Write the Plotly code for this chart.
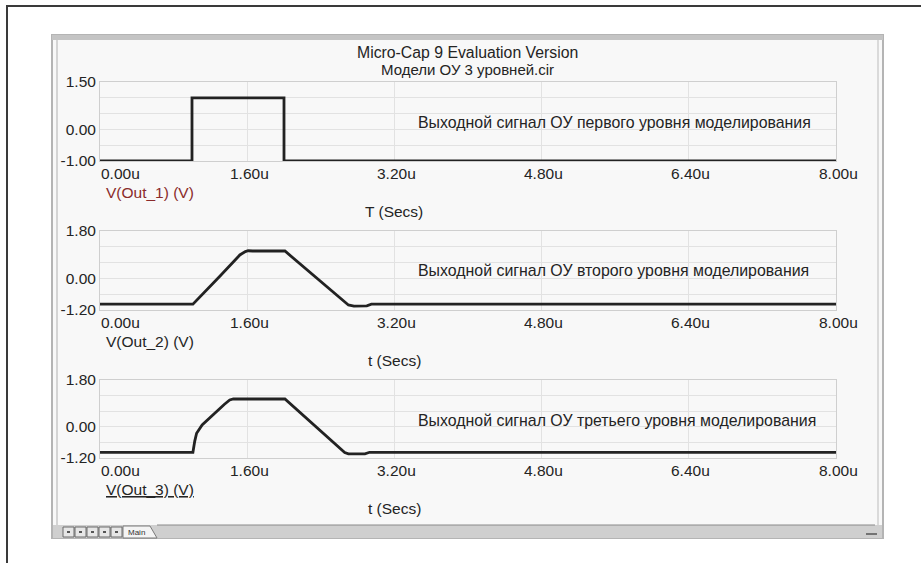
import plotly.graph_objects as go

W, H = 921, 563

# ---------------- data ----------------
title_lines = ["Micro-Cap 9 Evaluation Version", "Модели ОУ 3 уровней.cir"]

t1 = [0.0, 1.0, 1.0, 2.0, 2.0, 8.0]
v1 = [-1.0, -1.0, 1.0, 1.0, -1.0, -1.0]

t2 = [0.0, 1.01, 1.30, 1.52, 1.58, 1.61, 1.66, 2.01, 2.70, 2.76, 2.90, 2.95, 8.0]
v2 = [-0.98, -0.98, 0.07, 0.89, 1.02, 1.05, 1.04, 1.04, -1.01, -1.05, -1.04, -0.98, -0.98]

t3 = [0.0, 1.01, 1.03, 1.05, 1.11, 1.23, 1.35, 1.41, 1.45, 2.01, 2.66, 2.70, 2.88, 2.93, 8.0]
v3 = [-0.98, -0.98, -0.55, -0.25, 0.07, 0.48, 0.86, 1.03, 1.07, 1.07, -0.99, -1.04, -1.04, -0.98, -0.98]

x_ticks = [0.0, 1.6, 3.2, 4.8, 6.4, 8.0]
x_tick_labels = ["0.00u", "1.60u", "3.20u", "4.80u", "6.40u", "8.00u"]

y1_grid = [-1.0, -0.5, 0.0, 0.5, 1.0, 1.5]
y1_labels = ["-1.00", "", "0.00", "", "", "1.50"]
y23_grid = [-1.2, -0.6, 0.0, 0.6, 1.2, 1.8]
y23_labels = ["-1.20", "", "0.00", "", "", "1.80"]

curve_labels = ["V(Out_1) (V)", "V(Out_2) (V)", "V(Out_3) (V)"]
x_titles = ["T (Secs)", "t (Secs)", "t (Secs)"]
notes = [
    "Выходной сигнал ОУ первого уровня моделирования",
    "Выходной сигнал ОУ второго уровня моделирования",
    "Выходной сигнал ОУ третьего уровня моделирования",
]

# ---------------- layout helpers ----------------
def px(x):
    return x / W

def py(y):
    return 1 - y / H

FONT = "Liberation Sans, Arial, sans-serif"
TXT = "#242424"
FS = 15.5

plot_left, plot_right = 100, 836
panels = [(82, 161), (231, 310), (380, 458)]  # top, bottom pixel rows

fig = go.Figure()

series = [(t1, v1), (t2, v2), (t3, v3)]
for i, (t, v) in enumerate(series):
    fig.add_trace(go.Scatter(
        x=t, y=v, mode="lines",
        line=dict(color="#222222", width=2.8),
        xaxis="x" if i == 0 else f"x{i+1}",
        yaxis="y" if i == 0 else f"y{i+1}",
        showlegend=False, hoverinfo="skip",
    ))

layout = dict(
    width=W, height=H, autosize=False,
    margin=dict(l=0, r=0, t=0, b=0, pad=0, autoexpand=False),
    paper_bgcolor="white",
    plot_bgcolor="rgba(0,0,0,0)",
    font=dict(family=FONT, size=FS, color=TXT),
    showlegend=False,
)

shapes = []
annotations = []

# outer frame
shapes.append(dict(type="rect", xref="paper", yref="paper",
                   x0=px(7), x1=px(930), y0=py(6), y1=py(570),
                   line=dict(color="#3a3a3a", width=2), fillcolor="white", layer="below"))
# window
shapes.append(dict(type="rect", xref="paper", yref="paper",
                   x0=px(52), x1=px(883), y0=py(35), y1=py(538),
                   line=dict(color="#b4b4b4", width=2), fillcolor="#f8f8f8", layer="below"))
shapes.append(dict(type="rect", xref="paper", yref="paper",
                   x0=px(52), x1=px(883), y0=py(35), y1=py(40),
                   line=dict(width=0), fillcolor="#c4c4c4", layer="below"))
shapes.append(dict(type="line", xref="paper", yref="paper",
                   x0=px(57), x1=px(57), y0=py(40), y1=py(525),
                   line=dict(color="#c8c8c8", width=1.5), layer="below"))
shapes.append(dict(type="line", xref="paper", yref="paper",
                   x0=px(878), x1=px(878), y0=py(40), y1=py(525),
                   line=dict(color="#d0d0d0", width=1.5), layer="below"))
# tab bar
shapes.append(dict(type="rect", xref="paper", yref="paper",
                   x0=px(53), x1=px(882), y0=py(525), y1=py(538),
                   line=dict(width=0), fillcolor="#cfcfcf", layer="below"))
shapes.append(dict(type="line", xref="paper", yref="paper",
                   x0=px(157), x1=px(875), y0=py(525), y1=py(525),
                   line=dict(color="#8a8a8a", width=1.2), layer="below"))
shapes.append(dict(type="path", xref="paper", yref="paper",
                   path=f"M {px(123)} {py(538)} L {px(123)} {py(526)} L {px(150)} {py(526)} L {px(157)} {py(538)} Z",
                   line=dict(color="#7a7a7a", width=1), fillcolor="#f4f4f4", layer="below"))
for k in range(5):
    x0 = 63 + k * 12
    shapes.append(dict(type="rect", xref="paper", yref="paper",
                       x0=px(x0), x1=px(x0 + 11), y0=py(527), y1=py(537),
                       line=dict(color="#6a6a6a", width=1), fillcolor="#e6e6e6", layer="below"))
    shapes.append(dict(type="rect", xref="paper", yref="paper",
                       x0=px(x0 + 4), x1=px(x0 + 7), y0=py(531), y1=py(533),
                       line=dict(width=0), fillcolor="#555555", layer="below"))
annotations.append(dict(xref="paper", yref="paper", x=px(126), y=py(532),
                        text="Main", showarrow=False, xanchor="left", yanchor="middle",
                        font=dict(size=8, color="#333333")))
shapes.append(dict(type="line", xref="paper", yref="paper",
                   x0=px(866), x1=px(877), y0=py(534), y1=py(534),
                   line=dict(color="#555555", width=1.5), layer="below"))

# titles
annotations.append(dict(xref="paper", yref="paper", x=px(467), y=py(52),
                        text=title_lines[0], showarrow=False, xanchor="center", yanchor="middle",
                        font=dict(size=15.8, color=TXT)))
annotations.append(dict(xref="paper", yref="paper", x=px(467), y=py(70),
                        text=title_lines[1], showarrow=False, xanchor="center", yanchor="middle",
                        font=dict(size=15, color=TXT)))

label_colors = ["#8a2a2a", TXT, TXT]

for i, (top, bot) in enumerate(panels):
    xa = "xaxis" if i == 0 else f"xaxis{i+1}"
    ya = "yaxis" if i == 0 else f"yaxis{i+1}"
    xr = "x" if i == 0 else f"x{i+1}"
    yr = "y" if i == 0 else f"y{i+1}"
    ygrid = y1_grid if i == 0 else y23_grid
    ylab = y1_labels if i == 0 else y23_labels
    layout[xa] = dict(
        domain=[px(plot_left), px(plot_right)],
        anchor=yr, range=[0, 8], tickvals=x_ticks, showticklabels=False,
        showgrid=True, gridcolor="#e2e2e2", gridwidth=1, automargin=False,
        zeroline=False, showline=True, linecolor="#cfcfcf", linewidth=1, mirror=True,
        ticks="", fixedrange=True,
    )
    layout[ya] = dict(
        domain=[py(bot), py(top)],
        anchor=xr, range=[ygrid[0], ygrid[-1]], tickvals=ygrid, ticktext=ylab,
        showgrid=True, gridcolor="#e2e2e2", gridwidth=1, automargin=False,
        zeroline=False, showline=True, linecolor="#cfcfcf", linewidth=1, mirror=True,
        ticks="", tickfont=dict(size=FS, color=TXT), fixedrange=True,
    )
    # x tick labels
    for j, (tv, tl) in enumerate(zip(x_ticks, x_tick_labels)):
        annotations.append(dict(xref=xr, yref="paper", x=tv, y=py(bot + 12),
                                text=tl, showarrow=False,
                                xanchor="left" if j == 0 else "center", yanchor="middle",
                                xshift=-1 if j == 0 else 2,
                                font=dict(size=FS, color=TXT)))
    # curve label
    lab = curve_labels[i]
    if i == 2:
        lab = f"<u>{lab}</u>"
    annotations.append(dict(xref="paper", yref="paper", x=px(104), y=py(bot + 31),
                            text=lab, showarrow=False, xanchor="left", yanchor="middle",
                            font=dict(size=FS, color=label_colors[i])))
    # x title
    annotations.append(dict(xref="paper", yref="paper", x=px(394), y=py(bot + 50),
                            text=x_titles[i], showarrow=False, xanchor="center", yanchor="middle",
                            font=dict(size=FS, color=TXT)))
    # note text
    annotations.append(dict(xref="paper", yref="paper", x=px(416), y=py(top + 40),
                            text=notes[i], showarrow=False, xanchor="left", yanchor="middle",
                            font=dict(size=15.9, color=TXT)))

layout["shapes"] = shapes
layout["annotations"] = annotations
fig.update_layout(**layout)

fig.write_html(
    "out.html",
    config={"displayModeBar": False},
    post_script="document.body.style.margin='0';document.body.style.padding='0';"
                "document.documentElement.style.overflow='hidden';",
)
